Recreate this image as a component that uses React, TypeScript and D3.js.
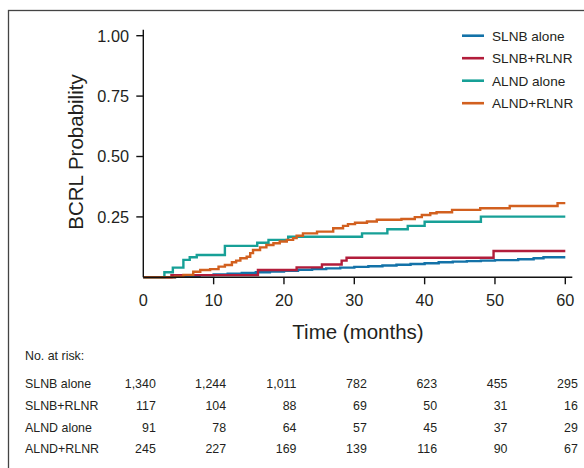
import React from "react";
import * as d3 from "d3";

// Kaplan-Meier style cumulative incidence
const slnbAloneT = [0, 4.5, 6, 8, 10, 12, 14, 16, 18, 20, 22, 24, 26, 28, 30, 32, 34, 36, 38, 40, 42, 44, 46, 48, 50, 53.3, 55.5, 56.9, 60];
const slnbAloneP = [0, 0.003, 0.006, 0.009, 0.012, 0.015, 0.018, 0.021, 0.024, 0.027, 0.031, 0.034, 0.037, 0.04, 0.043, 0.046, 0.049, 0.052, 0.055, 0.058, 0.062, 0.065, 0.067, 0.069, 0.071, 0.075, 0.079, 0.083, 0.083];

const slnbRlnrT = [0, 4, 16.3, 21.8, 25.4, 28.2, 28.9, 49.8, 60];
const slnbRlnrP = [0, 0.009, 0.03, 0.041, 0.053, 0.069, 0.081, 0.109, 0.109];

const alndAloneT = [0, 3.0, 4.2, 5.7, 6.6, 7.6, 11.6, 16.2, 17.8, 20.6, 31.1, 34.7, 37.6, 40.0, 48.0, 60];
const alndAloneP = [0, 0.021, 0.04, 0.072, 0.083, 0.092, 0.13, 0.143, 0.155, 0.168, 0.182, 0.199, 0.213, 0.23, 0.251, 0.251];

const alndRlnrT = [0, 4.5, 5.7, 7.1, 8.1, 9.5, 10.7, 11.6, 12.6, 13.2, 13.8, 14.7, 15.2, 15.6, 16.6, 17.5, 18.5, 19.4, 20.4, 21.3, 21.8, 22.7, 24.7, 27.0, 28.4, 29.1, 30.1, 31.8, 33.2, 36.7, 38.6, 39.6, 40.8, 41.7, 43.9, 47.9, 52.1, 58.9, 60];
const alndRlnrP = [0, 0.003, 0.01, 0.023, 0.03, 0.034, 0.044, 0.051, 0.062, 0.069, 0.079, 0.085, 0.1, 0.113, 0.124, 0.134, 0.141, 0.148, 0.155, 0.162, 0.172, 0.182, 0.189, 0.203, 0.213, 0.22, 0.226, 0.231, 0.238, 0.241, 0.249, 0.258, 0.265, 0.269, 0.279, 0.286, 0.295, 0.307, 0.307];

const groups = ["SLNB alone", "SLNB+RLNR", "ALND alone", "ALND+RLNR"];
const colors = ["#1372a8", "#b21d3b", "#17a097", "#d2601f"];
const xTicks = [0, 10, 20, 30, 40, 50, 60];
const yTicks = [0.25, 0.5, 0.75, 1.0];

const riskSlnbAlone = ["1,340", "1,244", "1,011", "782", "623", "455", "295"];
const riskSlnbRlnr = ["117", "104", "88", "69", "50", "31", "16"];
const riskAlndAlone = ["91", "78", "64", "57", "45", "37", "29"];
const riskAlndRlnr = ["245", "227", "169", "139", "116", "90", "67"];

const W = 584;
const H = 468;
const font = "'Liberation Sans', Arial, sans-serif";
const ink = "#231f20";

export default function App() {
  const x = d3.scaleLinear().domain([0, 60]).range([143.3, 565.3]);
  const y = d3.scaleLinear().domain([0, 1]).range([277.3, 35.7]);

  const series = [
    { t: slnbAloneT, p: slnbAloneP },
    { t: slnbRlnrT, p: slnbRlnrP },
    { t: alndAloneT, p: alndAloneP },
    { t: alndRlnrT, p: alndRlnrP },
  ];
  const risk = [riskSlnbAlone, riskSlnbRlnr, riskAlndAlone, riskAlndRlnr];

  const line = d3
    .line<[number, number]>()
    .x((d) => x(d[0]))
    .y((d) => y(d[1]))
    .curve(d3.curveStepAfter);

  const x0 = x(0);
  const y0 = y(0);

  return (
    <svg
      width={W}
      height={H}
      style={{ position: "absolute", left: 0, top: 0, background: "#fff" }}
      fontFamily={font}
    >
      {/* outer frame, cut by the image edges */}
      <rect x={8.5} y={10.5} width={W} height={H} fill="none" stroke="#444" strokeWidth={1.3} />

      {/* curves */}
      {series.map((s, i) => (
        <path
          key={groups[i]}
          d={line(s.t.map((t, j) => [t, s.p[j]] as [number, number])) || ""}
          fill="none"
          stroke={colors[i]}
          strokeWidth={2.4}
        />
      ))}

      {/* axes */}
      <g stroke="#111" strokeWidth={1.4} fill="none">
        <line x1={x0} x2={x0} y1={y(1) - 6} y2={y0} />
        <line x1={x0} x2={x(60) + 7} y1={y0} y2={y0} />
        {yTicks.map((t) => (
          <line key={t} x1={x0 - 7} x2={x0} y1={y(t)} y2={y(t)} />
        ))}
        {xTicks.slice(1).map((t) => (
          <line key={t} x1={x(t)} x2={x(t)} y1={y0} y2={y0 + 7} />
        ))}
      </g>
      <g fill={ink} fontSize={16.3}>
        {yTicks.map((t) => (
          <text key={t} x={129} y={y(t) + 5.8} textAnchor="end">
            {d3.format(".2f")(t)}
          </text>
        ))}
        {xTicks.map((t) => (
          <text key={t} x={x(t)} y={306} textAnchor="middle">
            {t}
          </text>
        ))}
      </g>
      <text x={358} y={339} textAnchor="middle" fontSize={20.5} fill={ink}>
        Time (months)
      </text>
      <text
        transform={`translate(83,152) rotate(-90)`}
        textAnchor="middle"
        fontSize={20.5}
        fill={ink}
      >
        BCRL Probability
      </text>

      {/* legend */}
      {groups.map((g, i) => (
        <g key={g} transform={`translate(462,${35.7 + i * 22.5})`}>
          <line x1={0} x2={22} y1={0} y2={0} stroke={colors[i]} strokeWidth={2.6} />
          <text x={30} y={4.8} fontSize={13.6} fill={ink}>
            {g}
          </text>
        </g>
      ))}

      {/* number at risk table */}
      <g fontSize={12.4} fill={ink}>
        <text x={25} y={360}>No. at risk:</text>
        {groups.map((g, i) => (
          <g key={g}>
            <text x={25} y={388.3 + i * 21.7}>
              {g}
            </text>
            {risk[i].map((v, j) => (
              <text key={j} x={x(xTicks[j]) + 12.5} y={388.3 + i * 21.7} textAnchor="end">
                {v}
              </text>
            ))}
          </g>
        ))}
      </g>
    </svg>
  );
}
